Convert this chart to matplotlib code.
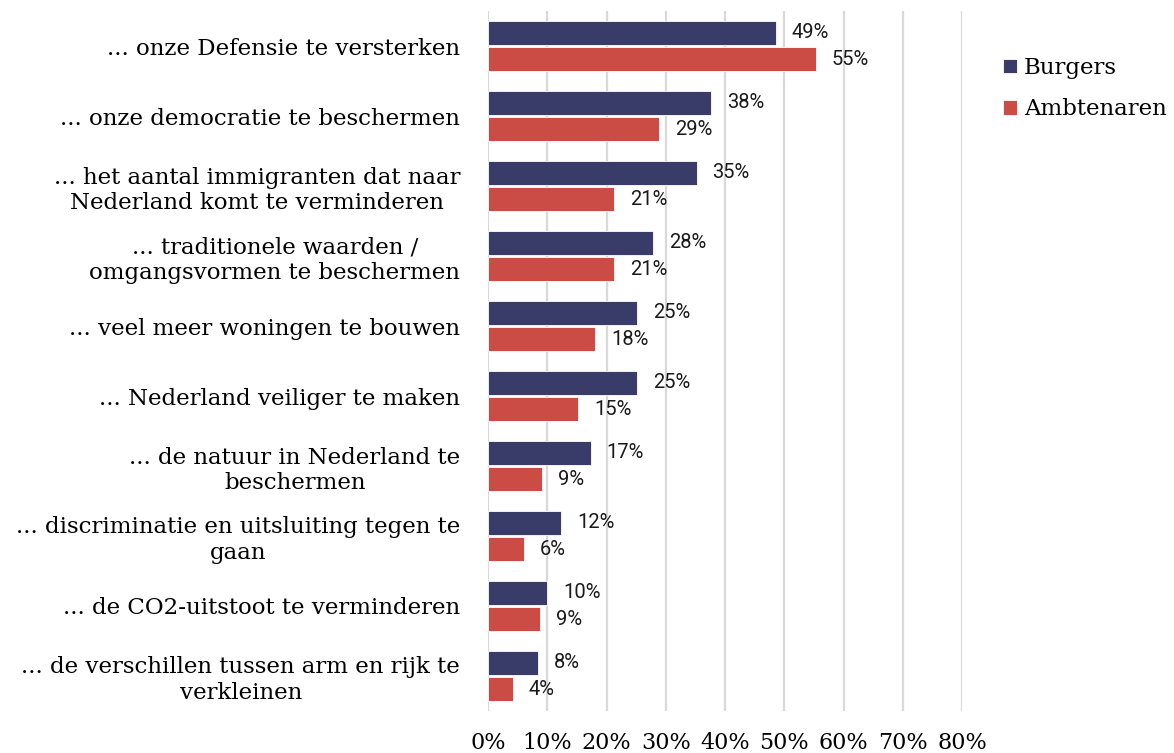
import matplotlib.pyplot as plt
import numpy as np

# Data
categories = [
    "... onze Defensie te versterken",
    "... onze democratie te beschermen",
    "... het aantal immigranten dat naar\nNederland komt te verminderen",
    "... traditionele waarden /\nomgangsvormen te beschermen",
    "... veel meer woningen te bouwen",
    "... Nederland veiliger te maken",
    "... de natuur in Nederland te\nbeschermen",
    "... discriminatie en uitsluiting tegen te\ngaan",
    "... de CO2-uitstoot te verminderen",
    "... de verschillen tussen arm en rijk te\nverkleinen",
]
burgers = [48.6, 37.6, 35.2, 27.9, 25.2, 25.2, 17.3, 12.3, 10.0, 8.4]
ambtenaren = [55.3, 28.9, 21.3, 21.3, 18.1, 15.2, 9.1, 6.1, 8.8, 4.2]
xticks = [0, 10, 20, 30, 40, 50, 60, 70, 80]

navy = '#393B68'
red = '#CB4C44'
serif = 'DejaVu Serif'

fig = plt.figure(figsize=(11.74, 7.53), dpi=100)
ax = fig.add_axes([488 / 1174, 1 - 711 / 753, (962 - 488) / 1174, 700 / 753])

y = np.arange(len(categories))
h = 0.343
off = 0.186
b1 = ax.barh(y - off, burgers, height=h, color=navy, edgecolor='white', linewidth=0.6, label='Burgers', zorder=3)
b2 = ax.barh(y + off, ambtenaren, height=h, color=red, edgecolor='white', linewidth=0.6, label='Ambtenaren', zorder=3)

for bars, vals in ((b1, burgers), (b2, ambtenaren)):
    for rect, v in zip(bars, vals):
        ax.annotate(f"{round(v)}%", (v, rect.get_y() + rect.get_height() / 2),
                    xytext=(11.5, 0), textcoords='offset points',
                    ha='left', va='center', fontsize=14.5, family='Roboto', color='#1a1a1a')

ax.set_xlim(0, 80)
ax.set_ylim(len(categories) - 0.5, -0.5)
ax.set_xticks(xticks)
ax.set_xticklabels([f"{t}%" for t in xticks], family=serif, fontsize=16)
ax.set_yticks(y)
ax.set_yticklabels(categories, family=serif, fontsize=16.5)
for t in ax.get_yticklabels():
    t.set_multialignment('center')
ax.tick_params(axis='y', length=0, pad=20)
ax.tick_params(axis='x', length=0, pad=15)
ax.grid(axis='x', color='#d9d9d9', linewidth=1.6, zorder=0)
ax.set_axisbelow(True)
for s in ax.spines.values():
    s.set_visible(False)

fig.legend(handles=[b1, b2], loc='upper left', bbox_to_anchor=(1003 / 1174, 1 - 57 / 753),
           frameon=False, prop={'family': serif, 'size': 16.5}, borderpad=0, borderaxespad=0,
           handlelength=0.6, handleheight=0.6, handletextpad=0.3, labelspacing=0.85)

fig.savefig('out.png', dpi=100)
